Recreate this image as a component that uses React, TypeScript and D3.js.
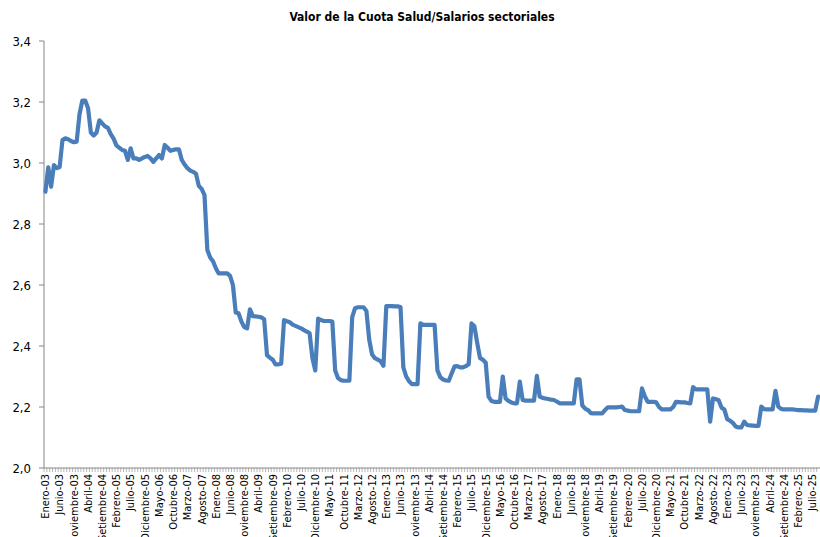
import React from "react";
import * as d3 from "d3";

const monthNames = ["Enero", "Febrero", "Marzo", "Abril", "Mayo", "Junio", "Julio", "Agosto", "Setiembre", "Octubre", "Noviembre", "Diciembre"];
const startYear = 2003;

const values: number[] = [
  // 2003
  2.906, 2.986, 2.922, 2.993, 2.983, 2.987, 3.075, 3.081, 3.078, 3.072, 3.068, 3.070,
  // 2004
  3.160, 3.205, 3.205, 3.180, 3.100, 3.090, 3.100, 3.140, 3.130, 3.120, 3.115, 3.095,
  // 2005
  3.080, 3.058, 3.050, 3.043, 3.040, 3.010, 3.048, 3.015, 3.015, 3.010, 3.015, 3.020,
  // 2006
  3.023, 3.015, 3.004, 3.015, 3.026, 3.015, 3.059, 3.050, 3.040, 3.043, 3.045, 3.045,
  // 2007
  3.010, 2.995, 2.983, 2.975, 2.971, 2.965, 2.925, 2.915, 2.895, 2.715, 2.690, 2.678,
  // 2008
  2.655, 2.638, 2.638, 2.638, 2.638, 2.630, 2.600, 2.510, 2.507, 2.480, 2.462, 2.458,
  // 2009
  2.520, 2.498, 2.497, 2.496, 2.494, 2.488, 2.370, 2.362, 2.355, 2.340, 2.340, 2.342,
  // 2010
  2.485, 2.481, 2.478, 2.470, 2.466, 2.462, 2.458, 2.452, 2.447, 2.442, 2.360, 2.320,
  // 2011
  2.490, 2.485, 2.482, 2.482, 2.482, 2.480, 2.320, 2.295, 2.288, 2.286, 2.286, 2.286,
  // 2012
  2.495, 2.524, 2.527, 2.527, 2.527, 2.515, 2.420, 2.372, 2.360, 2.355, 2.350, 2.335,
  // 2013
  2.531, 2.531, 2.531, 2.530, 2.530, 2.528, 2.330, 2.300, 2.285, 2.275, 2.275, 2.275,
  // 2014
  2.474, 2.469, 2.469, 2.469, 2.469, 2.469, 2.320, 2.298, 2.290, 2.287, 2.286, 2.310,
  // 2015
  2.333, 2.334, 2.330, 2.330, 2.334, 2.340, 2.474, 2.465, 2.410, 2.360, 2.355, 2.345,
  // 2016
  2.234, 2.220, 2.217, 2.217, 2.217, 2.300, 2.228, 2.220, 2.215, 2.212, 2.212, 2.283,
  // 2017
  2.223, 2.221, 2.221, 2.221, 2.221, 2.302, 2.234, 2.230, 2.228, 2.226, 2.224, 2.223,
  // 2018
  2.218, 2.212, 2.212, 2.212, 2.212, 2.212, 2.212, 2.291, 2.291, 2.205, 2.195, 2.190,
  // 2019
  2.180, 2.179, 2.179, 2.179, 2.179, 2.190, 2.199, 2.199, 2.199, 2.199, 2.200, 2.201,
  // 2020
  2.190, 2.188, 2.186, 2.186, 2.186, 2.186, 2.261, 2.235, 2.217, 2.217, 2.217, 2.215,
  // 2021
  2.200, 2.192, 2.192, 2.192, 2.192, 2.200, 2.217, 2.216, 2.215, 2.215, 2.213, 2.212,
  // 2022
  2.265, 2.258, 2.258, 2.258, 2.258, 2.258, 2.152, 2.228, 2.226, 2.222, 2.198, 2.192,
  // 2023
  2.160, 2.155, 2.148, 2.136, 2.133, 2.133, 2.152, 2.141, 2.140, 2.139, 2.138, 2.138,
  // 2024
  2.201, 2.193, 2.192, 2.192, 2.192, 2.253, 2.201, 2.194, 2.192, 2.192, 2.192, 2.192,
  // 2025
  2.191, 2.190, 2.190, 2.189, 2.189, 2.188, 2.188, 2.188, 2.234,
];

const categories: string[] = values.map((_, i) => {
  const m = i % 12;
  const y = startYear + Math.floor(i / 12);
  return `${monthNames[m]}-${String(y % 100).padStart(2, "0")}`;
});

const yTicks = [2.0, 2.2, 2.4, 2.6, 2.8, 3.0, 3.2, 3.4];
const labelEvery = 5;
const title = "Valor de la Cuota Salud/Salarios sectoriales";

const W = 820;
const H = 537;
const left = 44;
const right = 819.5;
const top = 41;
const bottom = 468;
const axisColor = "#868686";
const lineColor = "#4A7EBB";
const font = "'Liberation Sans Narrow', 'DejaVu Sans Condensed', 'Liberation Sans', sans-serif";

export default function App() {
  const x = d3.scaleBand<number>().domain(values.map((_, i) => i)).range([left, right]).padding(0);
  const bw = x.bandwidth();
  const cx = (i: number) => (x(i) as number) + bw / 2;
  const y = d3.scaleLinear().domain([2.0, 3.4]).range([bottom, top]);
  const line = d3
    .line<number>()
    .x((_, i) => cx(i))
    .y((d) => y(d));
  const fmt = (v: number) => v.toFixed(1).replace(".", ",");

  return (
    <svg
      width={W}
      height={H}
      style={{ position: "fixed", left: 0, top: 0, background: "#fff" }}
      fontFamily={font}
    >
      <rect x={0} y={0} width={W} height={H} fill="#fff" />
      <text x={422} y={21} textAnchor="middle" fontSize={12} fontWeight="bold" fill="#000">
        {title}
      </text>
      {/* y axis */}
      <line x1={left} x2={left} y1={top} y2={bottom} stroke={axisColor} strokeWidth={1} />
      {yTicks.map((t) => (
        <g key={t}>
          <line x1={left - 5} x2={left} y1={y(t)} y2={y(t)} stroke={axisColor} />
          <text x={31} y={y(t)} dy="0.35em" textAnchor="end" fontSize={13} fill="#000">
            {fmt(t)}
          </text>
        </g>
      ))}
      {/* x axis */}
      <line x1={left} x2={W} y1={bottom} y2={bottom} stroke={axisColor} strokeWidth={1} />
      {values.map((_, i) => (
        <line
          key={"t" + i}
          x1={x(i) as number}
          x2={x(i) as number}
          y1={bottom}
          y2={bottom + 4}
          stroke={axisColor}
          strokeWidth={0.6}
        />
      ))}
      {categories.map((c, i) =>
        i % labelEvery === 0 ? (
          <text
            key={"l" + i}
            transform={`translate(${cx(i)},${bottom + 6}) rotate(-90)`}
            textAnchor="end"
            dy="0.35em"
            fontSize={11}
            fill="#000"
          >
            {c}
          </text>
        ) : null
      )}
      <path
        d={line(values) || ""}
        fill="none"
        stroke={lineColor}
        strokeWidth={4.2}
        strokeLinejoin="round"
        strokeLinecap="round"
      />
    </svg>
  );
}
